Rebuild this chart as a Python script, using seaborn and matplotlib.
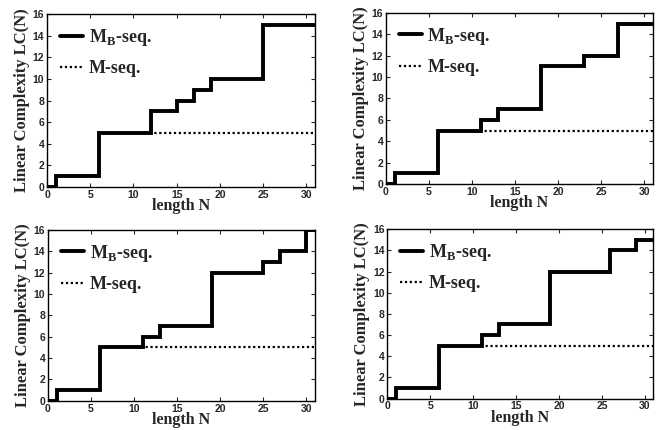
import matplotlib
matplotlib.use("Agg")
import matplotlib.pyplot as plt
import seaborn as sns
import pandas as pd

# ---- data (step change points; value holds until next N) ----
N_a = [0, 1, 6, 12, 15, 17, 19, 25, 31]
LC_B_a = [0, 1, 5, 7, 8, 9, 10, 15, 15]
N_b = [0, 1, 6, 11, 13, 18, 23, 27, 31]
LC_B_b = [0, 1, 5, 6, 7, 11, 12, 15, 15]
N_c = [0, 1, 6, 11, 13, 19, 25, 27, 30, 31]
LC_B_c = [0, 1, 5, 6, 7, 12, 13, 14, 16, 16]
N_d = [0, 1, 6, 11, 13, 19, 26, 29, 31]
LC_B_d = [0, 1, 5, 6, 7, 12, 14, 15, 15]

N_m = [0, 1, 6, 31]
LC_M = [0, 1, 5, 5]

x_ticks = [0, 5, 10, 15, 20, 25, 30]
y_ticks = [0, 2, 4, 6, 8, 10, 12, 14, 16]
label_B = r"M$_{\mathbf{B}}$-seq."
label_M = "M-seq."
xlabel = "length N"
ylabel = "Linear Complexity LC(N)"

sns.set_theme(style="ticks")
plt.rcParams["font.family"] = ["Liberation Serif", "DejaVu Serif"]
plt.rcParams["mathtext.fontset"] = "custom"
plt.rcParams["mathtext.rm"] = "Liberation Serif"
plt.rcParams["mathtext.bf"] = "Liberation Serif:bold"

fig = plt.figure(figsize=(6.62, 4.30), dpi=100)
positions = [
    [0.071, 0.565, 0.405, 0.402],
    [0.583, 0.572, 0.403, 0.398],
    [0.0725, 0.068, 0.403, 0.397],
    [0.585, 0.073, 0.402, 0.394],
]
panels = [(N_a, LC_B_a), (N_b, LC_B_b), (N_c, LC_B_c), (N_d, LC_B_d)]

for pos, (nb, lcb) in zip(positions, panels):
    ax = fig.add_axes(pos)
    dm = pd.DataFrame({"N": N_m, "LC": LC_M})
    db = pd.DataFrame({"N": nb, "LC": lcb})
    sns.lineplot(data=dm, x="N", y="LC", ax=ax, color="black", lw=1.6,
                 linestyle=(0, (1, 1.2)), drawstyle="steps-post", label=label_M,
                 estimator=None, sort=False)
    sns.lineplot(data=db, x="N", y="LC", ax=ax, color="black", lw=2.8,
                 drawstyle="steps-post", label=label_B,
                 estimator=None, sort=False, solid_joinstyle="miter")
    ax.set_xlim(0, 31)
    ax.set_ylim(0, 16)
    ax.set_xticks(x_ticks)
    ax.set_yticks(y_ticks)
    ax.tick_params(direction="in", length=3, width=0.8, top=True, right=True,
                   pad=2, labelsize=7.5)
    for lab in ax.get_xticklabels() + ax.get_yticklabels():
        lab.set_family(["Liberation Sans", "DejaVu Sans"])
        lab.set_fontweight("bold")
    for sp in ax.spines.values():
        sp.set_linewidth(1.0)
        sp.set_color("black")
    ax.set_xlabel(xlabel, fontsize=11.5, fontweight="bold", labelpad=-1)
    ax.set_ylabel(ylabel, fontsize=12, fontweight="bold", labelpad=2)
    h, l = ax.get_legend_handles_labels()
    ax.legend(h[::-1], l[::-1], loc="upper left", frameon=False,
              prop={"size": 13, "weight": "bold"},
              handlelength=1.3, handletextpad=0.3, labelspacing=0.7,
              borderaxespad=0.3)

fig.savefig("out.png", dpi=100)
